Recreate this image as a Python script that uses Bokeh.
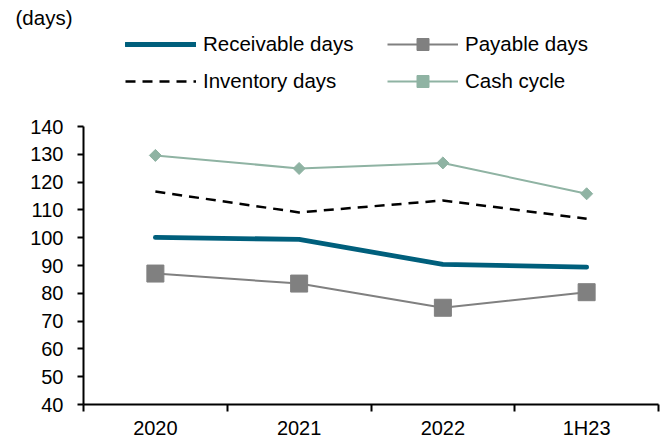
from bokeh.plotting import figure
from bokeh.models import Legend, LegendItem, FixedTicker, Range1d
from bokeh.embed import file_html
from bokeh.resources import INLINE
import math

categories = ["2020", "2021", "2022", "1H23"]
receivable_days = [100.1, 99.4, 90.4, 89.4]
payable_days = [87.1, 83.5, 74.8, 80.4]
inventory_days = [116.6, 109.1, 113.4, 106.8]
cash_cycle = [129.6, 124.9, 126.9, 115.8]
y_ticks = [40, 50, 60, 70, 80, 90, 100, 110, 120, 130, 140]
y_min, y_max = 40, 140

FONT = "Liberation Sans"
x = list(range(len(categories)))

# layout (pixels): frame spans from TOP to BOTTOM; axis 40..140 spans 126..404
TOP, BOTTOM, AXIS_TOP = 30, 404, 126
px_per_unit = (BOTTOM - AXIS_TOP) / (y_max - y_min)
y_range_top = y_min + (BOTTOM - TOP) / px_per_unit

p = figure(width=672, height=441, output_backend="svg", toolbar_location=None,
           x_range=Range1d(-0.5, len(categories) - 0.5), y_range=Range1d(y_min, y_range_top),
           min_border_left=83, min_border_right=14, min_border_top=TOP, min_border_bottom=441 - BOTTOM)
p.outline_line_color = None
p.xgrid.grid_line_color = None
p.ygrid.grid_line_color = None
p.background_fill_color = "white"
p.border_fill_color = "white"

p.title.text = "(days)"
p.title.text_font = FONT
p.title.text_font_size = "20.5px"
p.title.text_font_style = "normal"
p.title.text_color = "black"
p.title.align = "left"
p.title.offset = -68
p.title.standoff = 4

r_rec = p.line(x, receivable_days, line_color="#005F7C", line_width=4.8, line_cap="round")
r_pay = p.line(x, payable_days, line_color="#808080", line_width=2)
r_pay_m = p.scatter(x, payable_days, marker="square", size=17, fill_color="#808080", line_color="#808080")
r_inv = p.line(x, inventory_days, line_color="black", line_width=2.5, line_dash="10 7")
r_cash = p.line(x, cash_cycle, line_color="#8FB3A3", line_width=2)
r_cash_m = p.scatter(x, cash_cycle, marker="square", size=8.5, angle=math.pi / 4,
                     fill_color="#8FB3A3", line_color="#8FB3A3")

# y axis
ya = p.yaxis[0]
ya.bounds = (y_min, y_max)
ya.ticker = FixedTicker(ticks=y_ticks, minor_ticks=[])
ya.axis_line_color = "black"
ya.axis_line_width = 2
ya.major_tick_line_color = "black"
ya.major_tick_line_width = 2
ya.major_tick_out = 6
ya.major_tick_in = 0
ya.minor_tick_line_color = None
ya.major_label_standoff = 14
ya.major_label_text_font = FONT
ya.major_label_text_font_size = "20px"
ya.major_label_text_color = "black"

# x axis
xa = p.xaxis[0]
xa.ticker = FixedTicker(ticks=x, minor_ticks=[i - 0.5 for i in range(len(categories) + 1)])
xa.major_label_overrides = {i: c for i, c in enumerate(categories)}
xa.axis_line_color = "black"
xa.axis_line_width = 2
xa.major_tick_line_color = None
xa.major_tick_out = 0
xa.major_tick_in = 0
xa.minor_tick_line_color = "black"
xa.minor_tick_line_width = 2
xa.minor_tick_out = 7
xa.minor_tick_in = 0
xa.major_label_standoff = 5
xa.major_label_text_font = FONT
xa.major_label_text_font_size = "20px"
xa.major_label_text_color = "black"

legend = Legend(items=[
    LegendItem(label="Receivable days", renderers=[r_rec]),
    LegendItem(label="Payable days", renderers=[r_pay, r_pay_m]),
    LegendItem(label="Inventory days", renderers=[r_inv]),
    LegendItem(label="Cash cycle", renderers=[r_cash, r_cash_m]),
], orientation="horizontal", ncols=2,
    location=(42, BOTTOM - 96), spacing=7, padding=0, margin=0,
    glyph_width=71, glyph_height=30, label_width=177, label_height=30,
    label_standoff=7, label_text_font=FONT, label_text_font_size="20.5px",
    label_text_color="black", border_line_color=None, background_fill_alpha=0)
p.add_layout(legend, "center")

open("out.html", "w").write(file_html(p, INLINE))
